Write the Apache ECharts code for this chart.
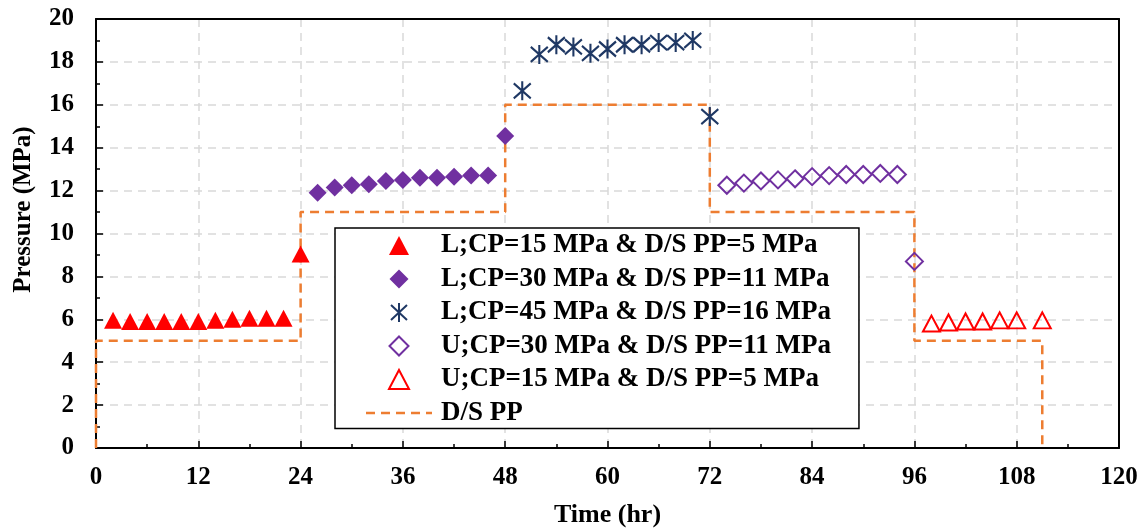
<!DOCTYPE html>
<html>
<head>
<meta charset="utf-8">
<script src="https://cdn.jsdelivr.net/npm/echarts@6/dist/echarts.min.js"></script>
<style>
html,body{margin:0;padding:0;background:#fff;}
#main{width:1143px;height:529px;}
</style>
</head>
<body>
<div id="main"></div>
<script>
// loading stages (L) and unloading stages (U), time in hr, pressure in MPa
var lcp15Time = [2,4,6,8,10,12,14,16,18,20,22,24];
var lcp15Pres = [5.95,5.9,5.9,5.9,5.9,5.9,5.95,6.0,6.05,6.05,6.05,9.05];

var lcp30Time = [26,28,30,32,34,36,38,40,42,44,46,48];
var lcp30Pres = [11.9,12.15,12.25,12.3,12.45,12.5,12.6,12.6,12.65,12.7,12.7,14.55];

var lcp45Time = [50,52,54,56,58,60,62,64,66,68,70,72];
var lcp45Pres = [16.65,18.35,18.8,18.7,18.4,18.6,18.8,18.8,18.9,18.9,19.0,15.45];

var ucp30Time = [74,76,78,80,82,84,86,88,90,92,94,96];
var ucp30Pres = [12.25,12.35,12.45,12.5,12.55,12.65,12.7,12.75,12.75,12.8,12.75,8.7];

var ucp15Time = [98,100,102,104,106,108,111];
var ucp15Pres = [5.8,5.85,5.9,5.9,5.95,5.95,5.95];

// downstream pore pressure steps
var ppTime = [0,0,24,24,48,48,72,72,96,96,111,111];
var ppPres = [0,5,5,11,11,16,16,11,11,5,5,0];

var seriesNames = [
	'L;CP=15 MPa & D/S PP=5 MPa',
	'L;CP=30 MPa & D/S PP=11 MPa',
	'L;CP=45 MPa & D/S PP=16 MPa',
	'U;CP=30 MPa & D/S PP=11 MPa',
	'U;CP=15 MPa & D/S PP=5 MPa',
	'D/S PP'
];

var xMin = 0, xMax = 120, xStep = 12;
var yMin = 0, yMax = 20, yStep = 2;

var font = '"Times New Roman", "Liberation Serif", serif';
// marker shapes as paths so the legend keeps their aspect
var triangle = 'path://M10,0L20,19L0,19Z';
var diamond = 'path://M10,0L20,10L10,20L0,10Z';
var asterisk = 'path://M0,2L16,17M16,2L0,17M8,0L8,19';
var dashIcon = 'path://M0,0h9v2.5h-9zM15,0h9v2.5h-9zM30,0h9v2.5h-9zM45,0h9v2.5h-9zM60,0h6v2.5h-6z';

function pairs(xs, ys){
	var out = [];
	for(var i = 0; i < xs.length; i++){
		out.push([xs[i], ys[i]]);
	}
	return out;
}

var axisText = {color:'#000', fontFamily:font, fontWeight:'bold', fontSize:25};
var gridLine = {show:true, lineStyle:{color:'#d9d9d9', width:1.5, type:[8,6]}};
var frame = {show:true, onZero:false, lineStyle:{color:'#000', width:2}};

var myChart = echarts.init(document.getElementById('main'));
var option = {
	animation: false,
	backgroundColor: '#fff',
	grid: {left: 96, right: 24, top: 19, bottom: 81, outerBoundsMode: 'none', containLabel: false},
	legend: {
		orient: 'vertical',
		left: 335, top: 228,
		padding: [4, 28, 2, 31],
		itemWidth: 66, itemHeight: 19, itemGap: 6.5,
		symbolKeepAspect: true,
		backgroundColor: '#fff',
		borderColor: '#000', borderWidth: 1.5,
		textStyle: {color:'#000', fontFamily:font, fontWeight:'bold', fontSize:27, lineHeight:26, padding:[0,0,0,4]},
		data: [
			seriesNames[0], seriesNames[1], seriesNames[2], seriesNames[3], seriesNames[4],
			{name: seriesNames[5], icon: dashIcon}
		]
	},
	xAxis: [{
		type: 'value', min: xMin, max: xMax, interval: xStep,
		name: 'Time (hr)', nameLocation: 'middle', nameGap: 54,
		nameTextStyle: Object.assign({}, axisText, {fontSize:26}),
		axisLine: frame,
		axisTick: {inside:true, length:7, lineStyle:{color:'#000', width:1.5}},
		minorTick: {show:true, splitNumber:2, length:4, lineStyle:{color:'#000', width:1.5}},
		axisLabel: Object.assign({margin:17}, axisText),
		splitLine: gridLine
	}, {
		type: 'value', position: 'top', min: xMin, max: xMax,
		axisLine: frame, axisTick: {show:false}, axisLabel: {show:false}, splitLine: {show:false}
	}],
	yAxis: [{
		type: 'value', min: yMin, max: yMax, interval: yStep,
		name: 'Pressure (MPa)', nameLocation: 'middle', nameGap: 60,
		nameTextStyle: Object.assign({padding:[0,0,0,48]}, axisText),
		axisLine: frame,
		axisTick: {show:true, inside:true, length:7, lineStyle:{color:'#000', width:1.5}},
		minorTick: {show:true, splitNumber:2, length:4, lineStyle:{color:'#000', width:1.5}},
		axisLabel: Object.assign({margin:22}, axisText),
		splitLine: gridLine
	}, {
		type: 'value', position: 'right', min: yMin, max: yMax,
		axisLine: frame, axisTick: {show:false}, axisLabel: {show:false}, splitLine: {show:false}
	}],
	series: [
		{
			name: seriesNames[5], type: 'line', symbol: 'none', z: 1,
			data: pairs(ppTime, ppPres),
			lineStyle: {color:'#ED7D31', width:2.5, type:[9,6]},
			itemStyle: {color:'#ED7D31'}
		},
		{
			name: seriesNames[0], type: 'scatter', symbol: triangle, symbolSize: [18,17],
			data: pairs(lcp15Time, lcp15Pres),
			itemStyle: {color:'#FF0000', opacity:1}
		},
		{
			name: seriesNames[1], type: 'scatter', symbol: diamond, symbolSize: 18,
			data: pairs(lcp30Time, lcp30Pres),
			itemStyle: {color:'#7030A0', opacity:1}
		},
		{
			name: seriesNames[2], type: 'scatter', symbol: asterisk, symbolSize: [17,19],
			data: pairs(lcp45Time, lcp45Pres),
			itemStyle: {color:'rgba(0,0,0,0)', borderColor:'#1F3864', borderWidth:2.2, opacity:1}
		},
		{
			name: seriesNames[3], type: 'scatter', symbol: diamond, symbolSize: 17,
			data: pairs(ucp30Time, ucp30Pres),
			itemStyle: {color:'rgba(255,255,255,0)', borderColor:'#7030A0', borderWidth:2, opacity:1}
		},
		{
			name: seriesNames[4], type: 'scatter', symbol: triangle, symbolSize: [17,16],
			data: pairs(ucp15Time, ucp15Pres),
			itemStyle: {color:'rgba(255,255,255,0)', borderColor:'#FF0000', borderWidth:2, opacity:1}
		}
	]
};
myChart.setOption(option);
</script>
</body>
</html>
